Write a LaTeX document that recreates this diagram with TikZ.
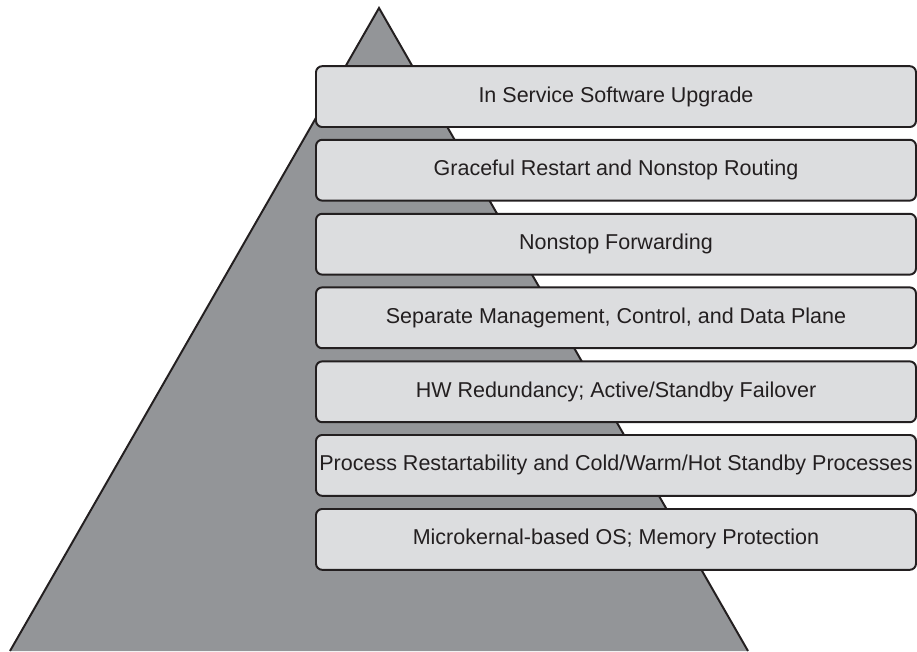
\documentclass[tikz,border=0pt]{standalone}
\usepackage{fontspec}
\setmainfont{Liberation Sans}
\usepackage{tikz}
\pgfdeclarelayer{edgelayer}
\pgfdeclarelayer{nodelayer}
\pgfsetlayers{edgelayer,nodelayer,main}
\definecolor{pyramidgray}{HTML}{939598}
\definecolor{layergray}{HTML}{DCDDDF}
\definecolor{inkblack}{HTML}{231F20}
\tikzstyle{none} = []
\tikzstyle{layer} = [rectangle, rounded corners=2.2pt, draw=inkblack, line width=0.7pt, fill=layergray, minimum width=7.5cm, minimum height=0.76cm, inner sep=0pt, text=inkblack, font=\fontsize{7.65}{9}\selectfont]
\tikzstyle{pyramid} = [draw=inkblack, line width=0.7pt, line join=miter]

\begin{document}
\begin{tikzpicture}[scale=0.5]
	\useasboundingbox (0, 0) rectangle (22.925, 16.275);
	\begin{pgfonlayer}{nodelayer}
		\node [style=none] (0) at (0.25, 0) {};
		\node [style=none] (1) at (9.475, 16.075) {};
		\node [style=none] (2) at (18.7, 0) {};
		\node [style=layer] (3) at (15.4, 13.86) {In Service Software Upgrade};
		\node [style=layer] (4) at (15.4, 12.02) {Graceful Restart and Nonstop Routing};
		\node [style=layer] (5) at (15.4, 10.17) {Nonstop Forwarding};
		\node [style=layer] (6) at (15.4, 8.33) {Separate Management, Control, and Data Plane};
		\node [style=layer] (7) at (15.4, 6.48) {HW Redundancy; Active/Standby Failover};
		\node [style=layer] (8) at (15.4, 4.64) {Process Restartability and Cold/Warm/Hot Standby Processes};
		\node [style=layer] (9) at (15.4, 2.79) {Microkernal-based OS; Memory Protection};
	\end{pgfonlayer}
	\begin{pgfonlayer}{edgelayer}
		\fill [pyramidgray] (0.center) to (1.center) to (2.center) to cycle;
		\draw [style=pyramid] (0.center) to (1.center) to (2.center);
	\end{pgfonlayer}
\end{tikzpicture}
\end{document}
